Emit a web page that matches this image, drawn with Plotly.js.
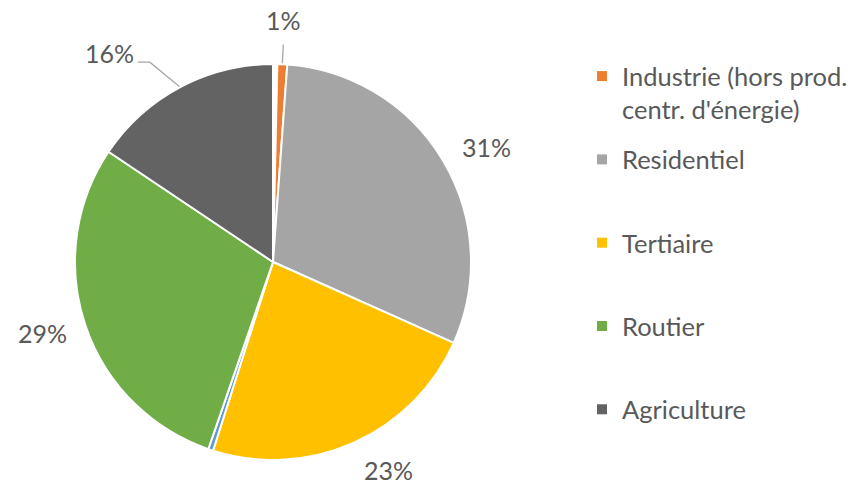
<!DOCTYPE html>
<html>
<head>
<meta charset="utf-8">
<script src="https://cdn.plot.ly/plotly-3.0.1.min.js"></script>
<style>html,body{margin:0;padding:0;background:#fff;}</style>
</head>
<body>
<div id="chart" style="width:854px;height:484px;"></div>
<script>
// ---- data ----
const sliceNames = ['Non affecté', "Industrie (hors prod. centr. d'énergie)", 'Residentiel', 'Tertiaire', 'Autres transports', 'Routier', 'Agriculture'];
const sliceValues = [0.35, 0.8, 30.55, 23.2, 0.4, 29.1, 15.6];
const legendNames = ["Industrie (hors prod.<br>centr. d'énergie)", 'Residentiel', 'Tertiaire', 'Routier', 'Agriculture'];
const legendSlices = [1, 2, 3, 5, 6];

// ---- style ----
const sliceColors = ['#FFFFFF', '#ED7D31', '#A5A5A5', '#FFC000', '#5B9BD5', '#70AD47', '#636363'];
const W = 854, H = 484, CX = 273, CY = 262, R = 198;
const FONT = 'Lato, "Open Sans", sans-serif';
const TXT = '#595959';
const FS = 25;
const LFS = 25.5;
// label placement tweaks per labelled slice index: [angle offset deg, radius factor]
const labelTweak = {1: [-0.3, 1.223], 2: [2.6, 1.227], 3: [-5, 1.2], 5: [1.5, 1.22], 6: [-10, 1.34]};
const leaderStyle = {1: 'radial', 6: 'elbow'};

const total = sliceValues.reduce((a, b) => a + b, 0);
const annotations = [];
const shapes = [];
let cum = 0;
const toPaper = (x, y) => [x / W, 1 - y / H];
sliceValues.forEach((v, i) => {
  const midFrac = (cum + v / 2) / total;
  cum += v;
  if (!(i in labelTweak)) return;
  const theta = midFrac * 2 * Math.PI;
  const [dAng, rf] = labelTweak[i];
  const th2 = theta + dAng * Math.PI / 180;
  const lx = CX + R * rf * Math.sin(th2);
  const ly = CY - R * rf * Math.cos(th2);
  const p = toPaper(lx, ly);
  annotations.push({
    x: p[0], y: p[1], xref: 'paper', yref: 'paper', xanchor: 'center', yanchor: 'middle',
    text: Math.round(v / total * 100) + '%', showarrow: false,
    font: {family: FONT, size: FS, color: TXT}
  });
  const ex = CX + (R + 1) * Math.sin(theta), ey = CY - (R + 1) * Math.cos(theta);
  let pts = null;
  if (leaderStyle[i] === 'radial') {
    pts = [[ex, ey], [CX + R * 1.1 * Math.sin(theta), CY - R * 1.1 * Math.cos(theta)]];
  } else if (leaderStyle[i] === 'elbow') {
    pts = [[ex, ey], [lx + 40.5, ly + 9], [lx + 28.5, ly + 9]];
  }
  if (pts) {
    const d = pts.map((q, k) => { const pp = toPaper(q[0], q[1]); return (k ? 'L' : 'M') + pp[0] + ',' + pp[1]; }).join(' ');
    shapes.push({type: 'path', xref: 'paper', yref: 'paper', path: d, line: {color: '#A6A6A6', width: 1.3}});
  }
});

const traces = [{
  type: 'pie',
  labels: sliceNames,
  values: sliceValues,
  sort: false,
  direction: 'clockwise',
  rotation: 0,
  textinfo: 'none',
  hoverinfo: 'label+percent',
  showlegend: false,
  marker: {colors: sliceColors, line: {color: '#FFFFFF', width: 2}},
  domain: {x: [(CX - R) / W, (CX + R) / W], y: [1 - (CY + R) / H, 1 - (CY - R) / H]}
}];
legendNames.forEach((n, k) => {
  const lines = n.split('<br>').length;
  traces.push({
    type: 'scatter', x: [null], y: [null], mode: 'markers',
    name: lines > 1 ? n : n + '<br>&nbsp;',
    legendgroup: 'g' + k,
    marker: {symbol: 'square', size: 10, color: sliceColors[legendSlices[k]]},
    showlegend: true, hoverinfo: 'skip'
  });
});

const layout = {
  width: W, height: H,
  margin: {l: 0, r: 0, t: 0, b: 0},
  paper_bgcolor: '#FFFFFF', plot_bgcolor: '#FFFFFF',
  xaxis: {visible: false}, yaxis: {visible: false},
  showlegend: true,
  legend: {
    x: 582 / W, xanchor: 'left', y: 1 - 53 / H, yanchor: 'top',
    valign: 'top', tracegroupgap: 14, traceorder: 'grouped',
    font: {family: FONT, size: LFS, color: TXT},
    bgcolor: 'rgba(0,0,0,0)', borderwidth: 0
  },
  annotations: annotations,
  shapes: shapes
};
Plotly.newPlot('chart', traces, layout, {displayModeBar: false, staticPlot: true});
</script>
</body>
</html>
